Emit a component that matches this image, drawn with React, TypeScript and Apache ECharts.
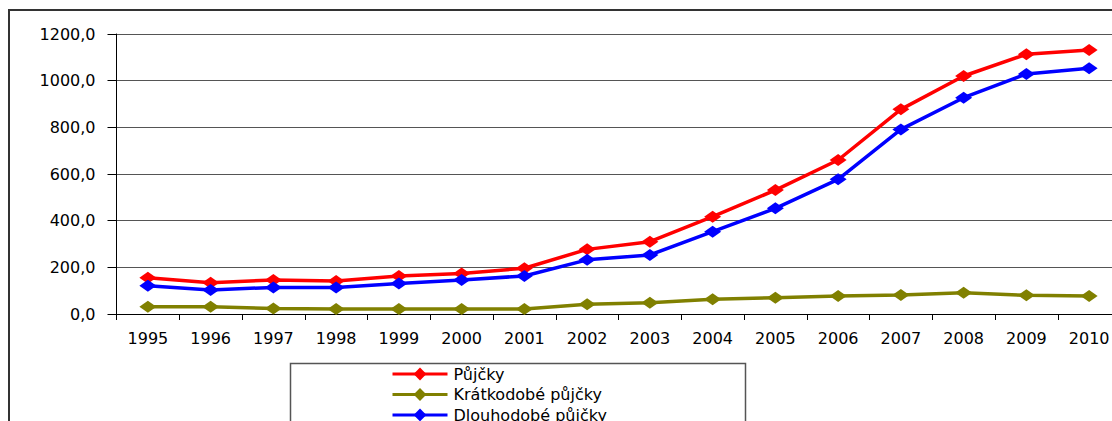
import React, { useEffect, useRef } from "react";
import * as echarts from "echarts";

const years = ["1995", "1996", "1997", "1998", "1999", "2000", "2001", "2002", "2003", "2004", "2005", "2006", "2007", "2008", "2009", "2010"];
const pujcky = [155, 134, 146, 141, 163, 174, 196, 277, 310, 417, 531, 660, 877, 1020, 1113, 1131];
const kratkodobe = [31, 31, 24, 21, 21, 21, 21, 42, 48, 63, 70, 77, 81, 91, 80, 77];
const dlouhodobe = [121, 103, 114, 114, 131, 146, 163, 232, 253, 353, 453, 577, 791, 927, 1029, 1053];
const seriesNames = ["Půjčky", "Krátkodobé půjčky", "Dlouhodobé půjčky"];
const seriesColors = ["#FF0000", "#808000", "#0000FF"];

const FONT = "DejaVu Sans";

export default function App() {
  const ref = useRef<HTMLDivElement>(null);
  useEffect(() => {
    if (!ref.current) return;
    const chart = echarts.init(ref.current, null, { renderer: "svg" });
    const data = [pujcky, kratkodobe, dlouhodobe];
    chart.setOption({
      animation: false,
      backgroundColor: "#ffffff",
      textStyle: { fontFamily: FONT },
      grid: { left: 116.5, top: 34, width: 1004, height: 280, containLabel: false },
      legend: {
        orient: "vertical",
        left: 391,
        top: 366,
        padding: 0,
        itemWidth: 55,
        itemHeight: 16,
        itemGap: 4.5,
        lineStyle: { width: 3 },
        textStyle: { fontFamily: FONT, fontSize: 16, lineHeight: 16, color: "#000", padding: [0, 0, 0, 1] },
        data: seriesNames,
      },
      xAxis: {
        type: "category",
        data: years,
        boundaryGap: true,
        axisLine: { lineStyle: { color: "#000", width: 1 } },
        axisTick: { show: true, length: 6, lineStyle: { color: "#000" } },
        axisLabel: { margin: 16, fontSize: 16, color: "#000", fontFamily: FONT, interval: 0 },
      },
      yAxis: {
        type: "value",
        min: 0,
        max: 1200,
        interval: 200,
        axisLine: { show: true, lineStyle: { color: "#000", width: 1 } },
        axisTick: { show: true, length: 9, lineStyle: { color: "#000" } },
        axisLabel: {
          margin: 21,
          fontSize: 16,
          color: "#000",
          fontFamily: FONT,
          formatter: (v: number) => v.toFixed(1).replace(".", ","),
        },
        splitLine: { show: true, lineStyle: { color: "#555", width: 1 } },
      },
      graphic: [
        {
          type: "rect",
          shape: { x: 8, y: 9, width: 1127, height: 2 },
          style: { fill: "#333" },
          silent: true,
          z: 10,
        },
        {
          type: "rect",
          shape: { x: 8, y: 9, width: 2, height: 460 },
          style: { fill: "#333" },
          silent: true,
          z: 10,
        },
        {
          type: "rect",
          shape: { x: 290.5, y: 363.5, width: 455, height: 100 },
          style: { fill: "none", stroke: "#555", lineWidth: 1.5 },
          silent: true,
          z: 10,
        },
      ],
      series: seriesNames.map((name, i) => ({
        name,
        type: "line",
        data: data[i],
        symbol: "diamond",
        symbolSize: [17, 12],
        color: seriesColors[i],
        lineStyle: { color: seriesColors[i], width: 3.5 },
        itemStyle: { color: seriesColors[i] },
      })),
    });
    return () => chart.dispose();
  }, []);
  return (
    <div style={{ position: "fixed", left: 0, top: 0, width: 1112, height: 421, overflow: "hidden", background: "#fff" }}>
      <div ref={ref} style={{ width: 1135, height: 470 }} />
      <div style={{ position: "absolute", left: 8, top: 9, width: 1104, height: 2, background: "#333" }} />
    </div>
  );
}
